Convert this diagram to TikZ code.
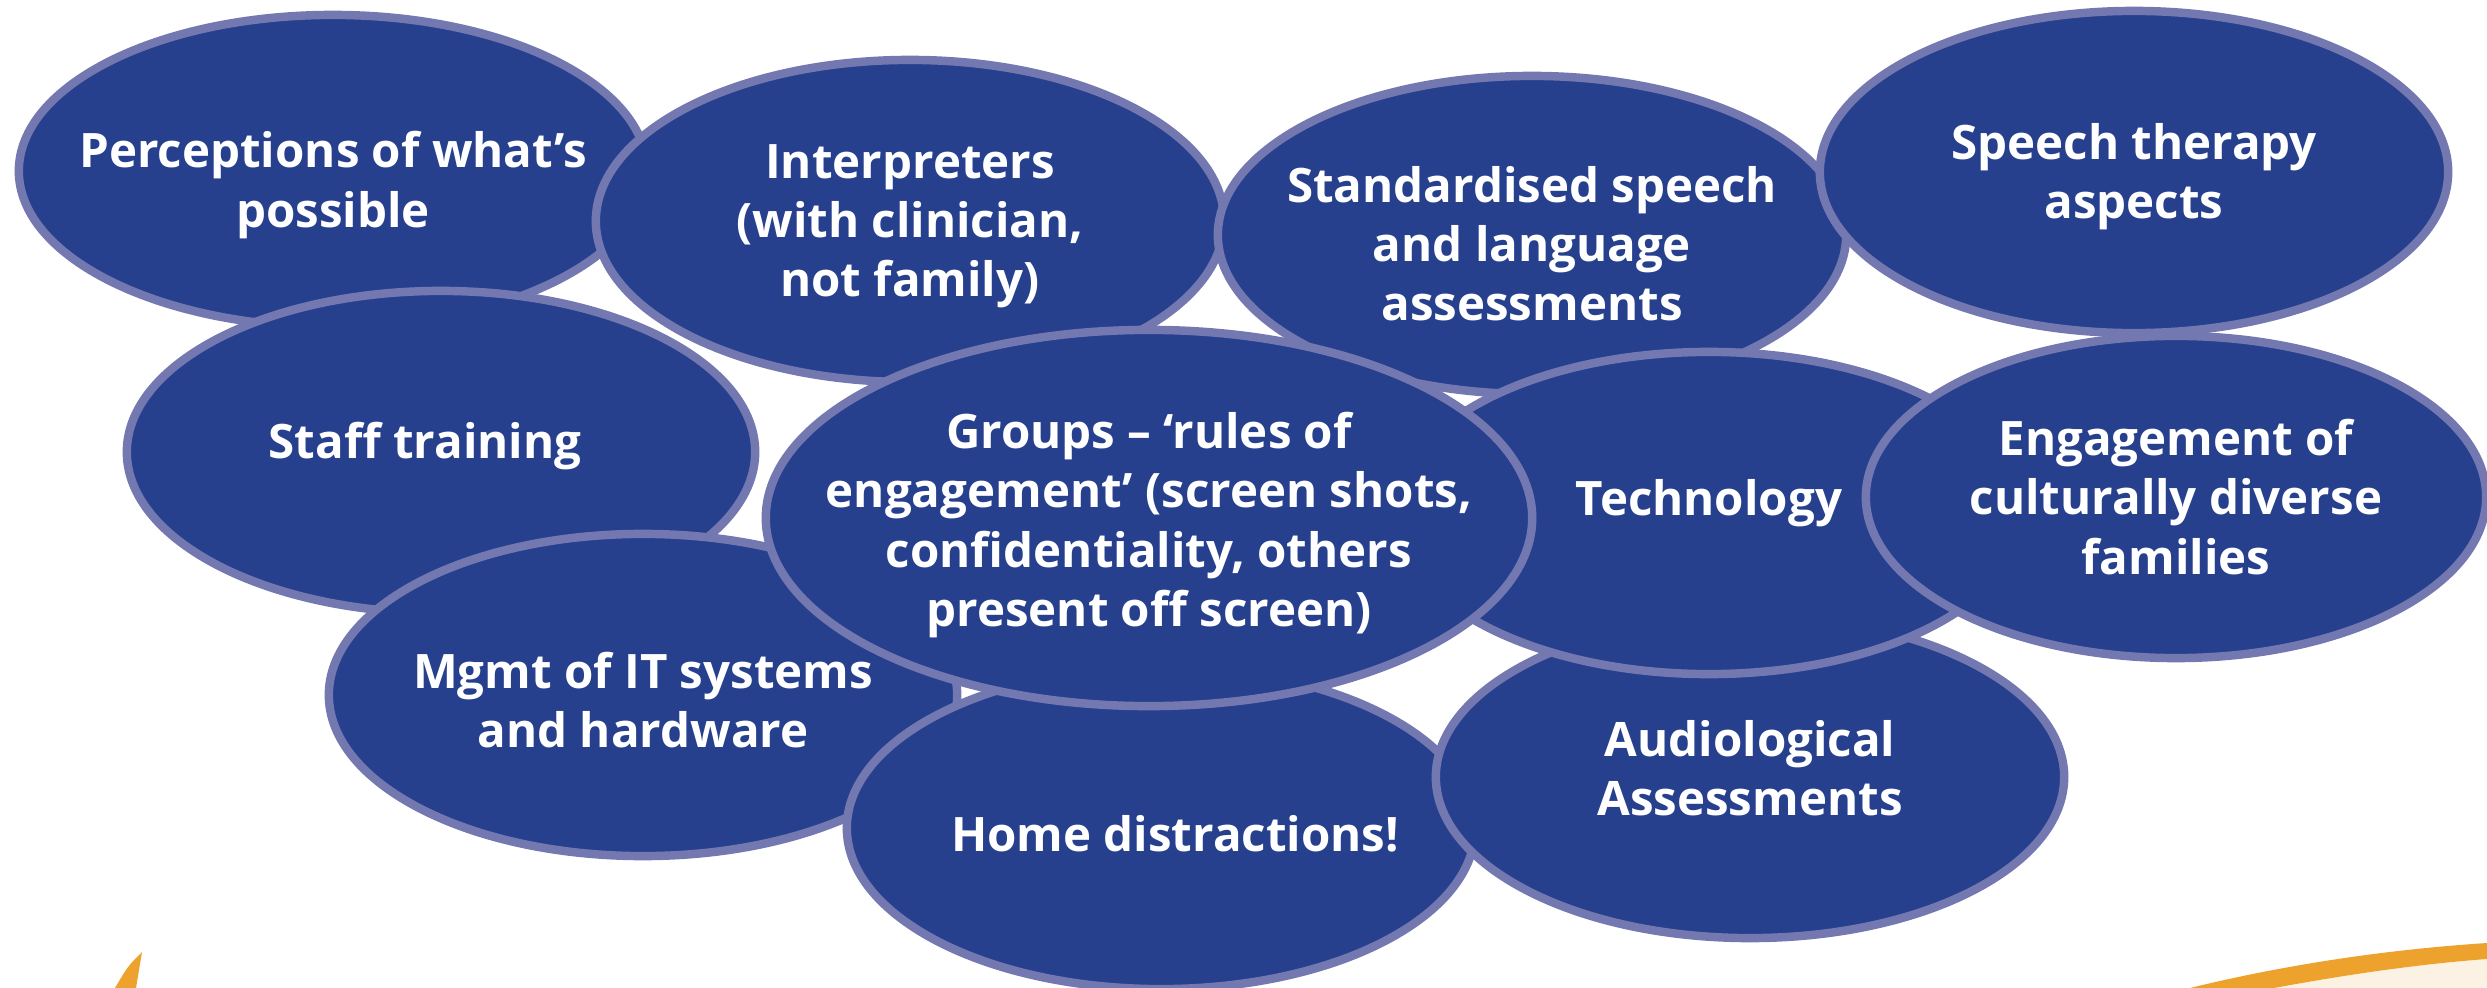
\documentclass[tikz,border=0pt]{standalone}
\usepackage{fontspec}
\setmainfont{Open Sans}
\usepackage{xcolor}
\usepackage{tikz}
\usetikzlibrary{shapes.geometric, backgrounds}

\definecolor{bubblefill}{HTML}{26408E}
\definecolor{bubbleline}{HTML}{7478B0}
\definecolor{arcorange}{HTML}{EEA22E}
\definecolor{arccream}{HTML}{FCF2E4}

\begin{document}
\begin{tikzpicture}[
  x=0.01cm, y=-0.01cm,
  bubble/.style={draw=bubbleline, fill=bubblefill, ellipse, line width=2.4pt, inner sep=0pt,
    minimum width=6.28cm, minimum height=3.22cm},
  bigbubble/.style={bubble, minimum width=7.66cm, minimum height=3.76cm},
  bubbletext/.style={text=white, align=center, inner sep=0pt,
    font=\fontsize{13.5}{16.8}\selectfont\bfseries}
]
\useasboundingbox (0,0) rectangle (2487,988);

% Top row
\node[bubble, minimum height=3.12cm, label={[bubbletext, yshift=-0.14cm]center:{Perceptions of what’s\\possible}}] (Perceptions) at (333,171) {};
\node[bubble, label={[bubbletext, yshift=-0.05cm]center:{Interpreters\\(with clinician,\\not family)}}] (Interpreters) at (910,221) {};
\node[bubble, minimum height=3.18cm, label={[bubbletext, yshift=-0.09cm]center:{Standardised speech\\and language\\assessments}}] (Standardised) at (1532,235) {};
\node[bubble, label={[bubbletext, yshift=-0.05cm]center:{Speech therapy\\aspects}}] (SpeechTherapy) at (2134,172) {};

% Middle row
\node[bubble, label={[bubbletext, xshift=-0.16cm, yshift=0.06cm]center:{Staff training}}] (StaffTraining) at (441,452) {};
\node[bubble, label={[bubbletext, yshift=-0.05cm]center:{Mgmt of IT systems\\and hardware}}] (ITSystems) at (643,695) {};
\node[bubble, label={[bubbletext, xshift=0.14cm, yshift=-0.06cm]center:{Home distractions!}}] (Home) at (1161,828) {};
\node[bubble, label={[bubbletext, yshift=0.09cm]center:{Audiological\\Assessments}}] (Audiological) at (1750,777) {};
\node[bubble, label={[bubbletext, yshift=0.1cm]center:{Technology}}] (Technology) at (1709,513) {};
\node[bubble, minimum width=6.2cm, label={[bubbletext]center:{Engagement of\\culturally diverse\\families}}] (Engagement) at (2176,497) {};

% Centre
\node[bigbubble, label={[bubbletext, yshift=-0.07cm]center:{Groups – ‘rules of\\engagement’ (screen shots,\\confidentiality, others\\present off screen)}}] (Groups) at (1149,518) {};

% Orange arcs
\begin{pgfonlayer}{background}
\fill[arcorange] (142,952) .. controls (128,966) .. (115,988) -- (136,988) -- cycle;
\fill[arccream] (2274,988) .. controls (2350,974) and (2420,964) .. (2487,959) -- (2487,988) -- cycle;
\fill[arcorange] (2190,988) .. controls (2280,966) and (2380,950) .. (2487,943) -- (2487,959)
  .. controls (2420,964) and (2350,974) .. (2274,988) -- cycle;
\end{pgfonlayer}

\end{tikzpicture}
\end{document}
